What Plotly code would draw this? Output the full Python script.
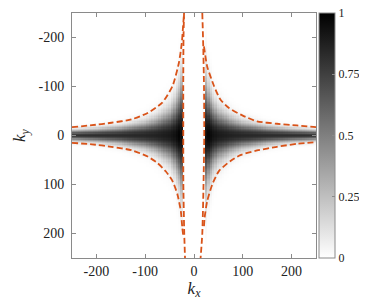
import numpy as np
import plotly.graph_objects as go

# ---- field description (|kx| anchors, symmetric) ----
field_kx = [0, 18, 20, 22, 24, 27, 30, 40, 50, 75, 100, 150, 200, 250]
field_peak = [0, 0, 0.02, 0.3, 0.92, 1.0, 0.98, 0.93, 0.9, 0.87, 0.85, 0.83, 0.82, 0.8]
field_edge = [200, 200, 200, 190, 180, 160, 140, 102, 80, 56, 42, 28, 21, 17]

# ---- dashed contour curves (kx, ky) ----
ul_kx = [-250, -209, -169, -128, -95, -65, -44, -31, -25, -22.4, -20.4]
ul_ky = [-17, -21, -26, -33, -46, -67, -101, -148, -189, -223, -250]
ur_kx = [20.4, 27, 41, 54, 71, 99, 129, 170, 211, 250]
ur_ky = [-182, -141, -101, -73.5, -56.5, -41, -29, -24, -20.5, -17]
ll_kx = [-250, -209, -169, -128, -95, -75, -58, -44, -34, -27, -24, -21.5]
ll_ky = [15, 18, 23, 30, 43, 56, 73, 93, 120, 154, 188, 209]
lr_kx = [20.5, 21.7, 27, 37.4, 51, 74.8, 95, 129, 170, 211, 250]
lr_ky = [185, 168, 134, 100, 72.7, 52, 40, 30.6, 23, 17, 13.5]
vl_kx = [-20.4, -21.5, -22, -22, -21.8, -20, -18.4]
vl_ky = [-250, -200, -100, 0, 100, 200, 250]
vr_kx = [17, 19, 20.5, 21, 19.5, 17, 13.5]
vr_ky = [-250, -180, -100, 0, 100, 200, 250]

x_ticks = [-200, -100, 0, 100, 200]
x_labels = ["-200", "-100", "0", "100", "200"]
y_ticks = [-200, -100, 0, 100, 200]
y_labels = ["-200", "-100", "0", "100", "200"]
cb_ticks = [0, 0.25, 0.5, 0.75, 1]
cb_labels = ["0", "0.25", "0.5", "0.75", "1"]

kx_grid = np.arange(-250, 250.1, 5.0)
ky_grid = np.arange(-250, 250.1, 2.5)
peak = np.interp(np.abs(kx_grid), field_kx, field_peak)
edge = np.interp(np.abs(kx_grid), field_kx, field_edge)
w = edge / 1.75
Z = peak[None, :] * np.exp(-(ky_grid[:, None] / w[None, :]) ** 2)

FONT = "Liberation Serif, Times New Roman, serif"
TC = "#222222"
LC = "#D95319"

fig = go.Figure()
fig.add_trace(go.Heatmap(
    x=kx_grid, y=ky_grid, z=Z, zmin=0, zmax=1,
    colorscale=[[0, "white"], [1, "black"]], zsmooth=False,
    colorbar=dict(
        x=(311 - 64) / 244, xanchor="left", xpad=0, ypad=0,
        y=0.5, yanchor="middle", len=1, lenmode="fraction",
        thickness=16, thicknessmode="pixels",
        outlinewidth=1, outlinecolor="#8a8a8a",
        tickvals=cb_ticks, ticktext=cb_labels, ticks="inside", ticklen=3,
        tickcolor="#8a8a8a", ticklabeloverflow="allow",
        tickfont=dict(family=FONT, size=12, color=TC),
    ),
    showscale=True, hoverinfo="skip",
))

for cx, cy in [(ul_kx, ul_ky), (ur_kx, ur_ky), (ll_kx, ll_ky), (lr_kx, lr_ky),
               (vl_kx, vl_ky), (vr_kx, vr_ky)]:
    fig.add_trace(go.Scatter(x=cx, y=cy, mode="lines", showlegend=False,
                             line=dict(color=LC, width=1.8, dash="6px,3px", shape="spline", smoothing=0.6),
                             hoverinfo="skip"))

axis_common = dict(
    showgrid=False, zeroline=False, showline=True, linecolor="#8a8a8a", linewidth=1,
    mirror="ticks", ticks="inside", ticklen=4, tickcolor="#8a8a8a",
    tickfont=dict(family=FONT, size=14, color=TC),
)
fig.update_xaxes(range=[-250, 250], tickvals=x_ticks, ticktext=x_labels,
                 title=dict(text="<i>k</i><sub><i>x</i></sub>", font=dict(family=FONT, size=17, color=TC), standoff=2),
                 **axis_common)
fig.update_yaxes(range=[250, -250], tickvals=y_ticks, ticktext=y_labels, ticklabelstandoff=4,
                 title=dict(text="<i>k</i><sub><i>y</i></sub>", font=dict(family=FONT, size=17, color=TC), standoff=8),
                 **axis_common)
fig.update_layout(
    width=367, height=299,
    margin=dict(l=64, r=59, t=5, b=49),
    plot_bgcolor="white", paper_bgcolor="white",
    font=dict(family=FONT, color=TC),
    showlegend=False,
)
fig.write_html("out.html")
